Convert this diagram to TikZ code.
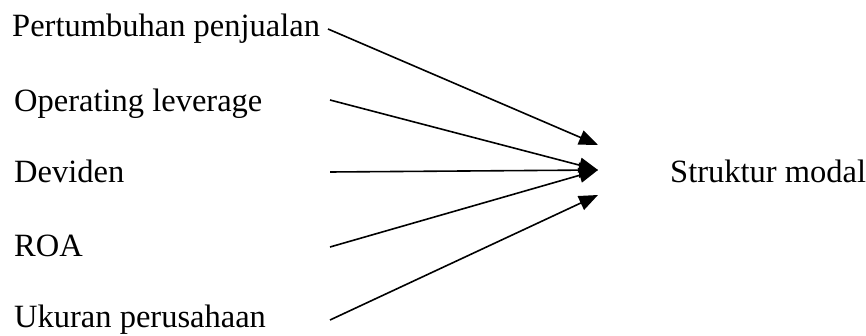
\documentclass[tikz,border=0pt]{standalone}
\usepackage{fontspec}
\setmainfont{Liberation Serif}
\usetikzlibrary{arrows.meta}
\begin{document}
\begin{tikzpicture}[x=1pt,y=-1pt,
  lbl/.style={inner sep=0pt,anchor=base west,font=\fontsize{32.5}{39}\selectfont},
  conn/.style={line width=1.6pt,-{Triangle[length=19pt,width=15pt]}}]
\useasboundingbox (0,0) rectangle (866,336);
\node[lbl] (pp) at (12,37) {Pertumbuhan penjualan};
\node[lbl] (ol) at (14,112) {Operating leverage};
\node[lbl] (dv) at (14,183) {Deviden};
\node[lbl] (roa) at (14,257) {ROA};
\node[lbl] (up) at (14,327) {Ukuran perusahaan};
\node[lbl] (sm) at (670,183) {Struktur modal};
\coordinate (s1) at (328,29);
\coordinate (s2) at (330,100);
\coordinate (s3) at (330,172);
\coordinate (s4) at (330,247);
\coordinate (s5) at (330,320);
\coordinate (t1) at (598,145);
\coordinate (t2) at (598,170);
\coordinate (t3) at (598,195);
\draw[conn] (s1) -- (t1);
\draw[conn] (s2) -- (t2);
\draw[conn] (s3) -- (t2);
\draw[conn] (s4) -- (t2);
\draw[conn] (s5) -- (t3);
\end{tikzpicture}
\end{document}
